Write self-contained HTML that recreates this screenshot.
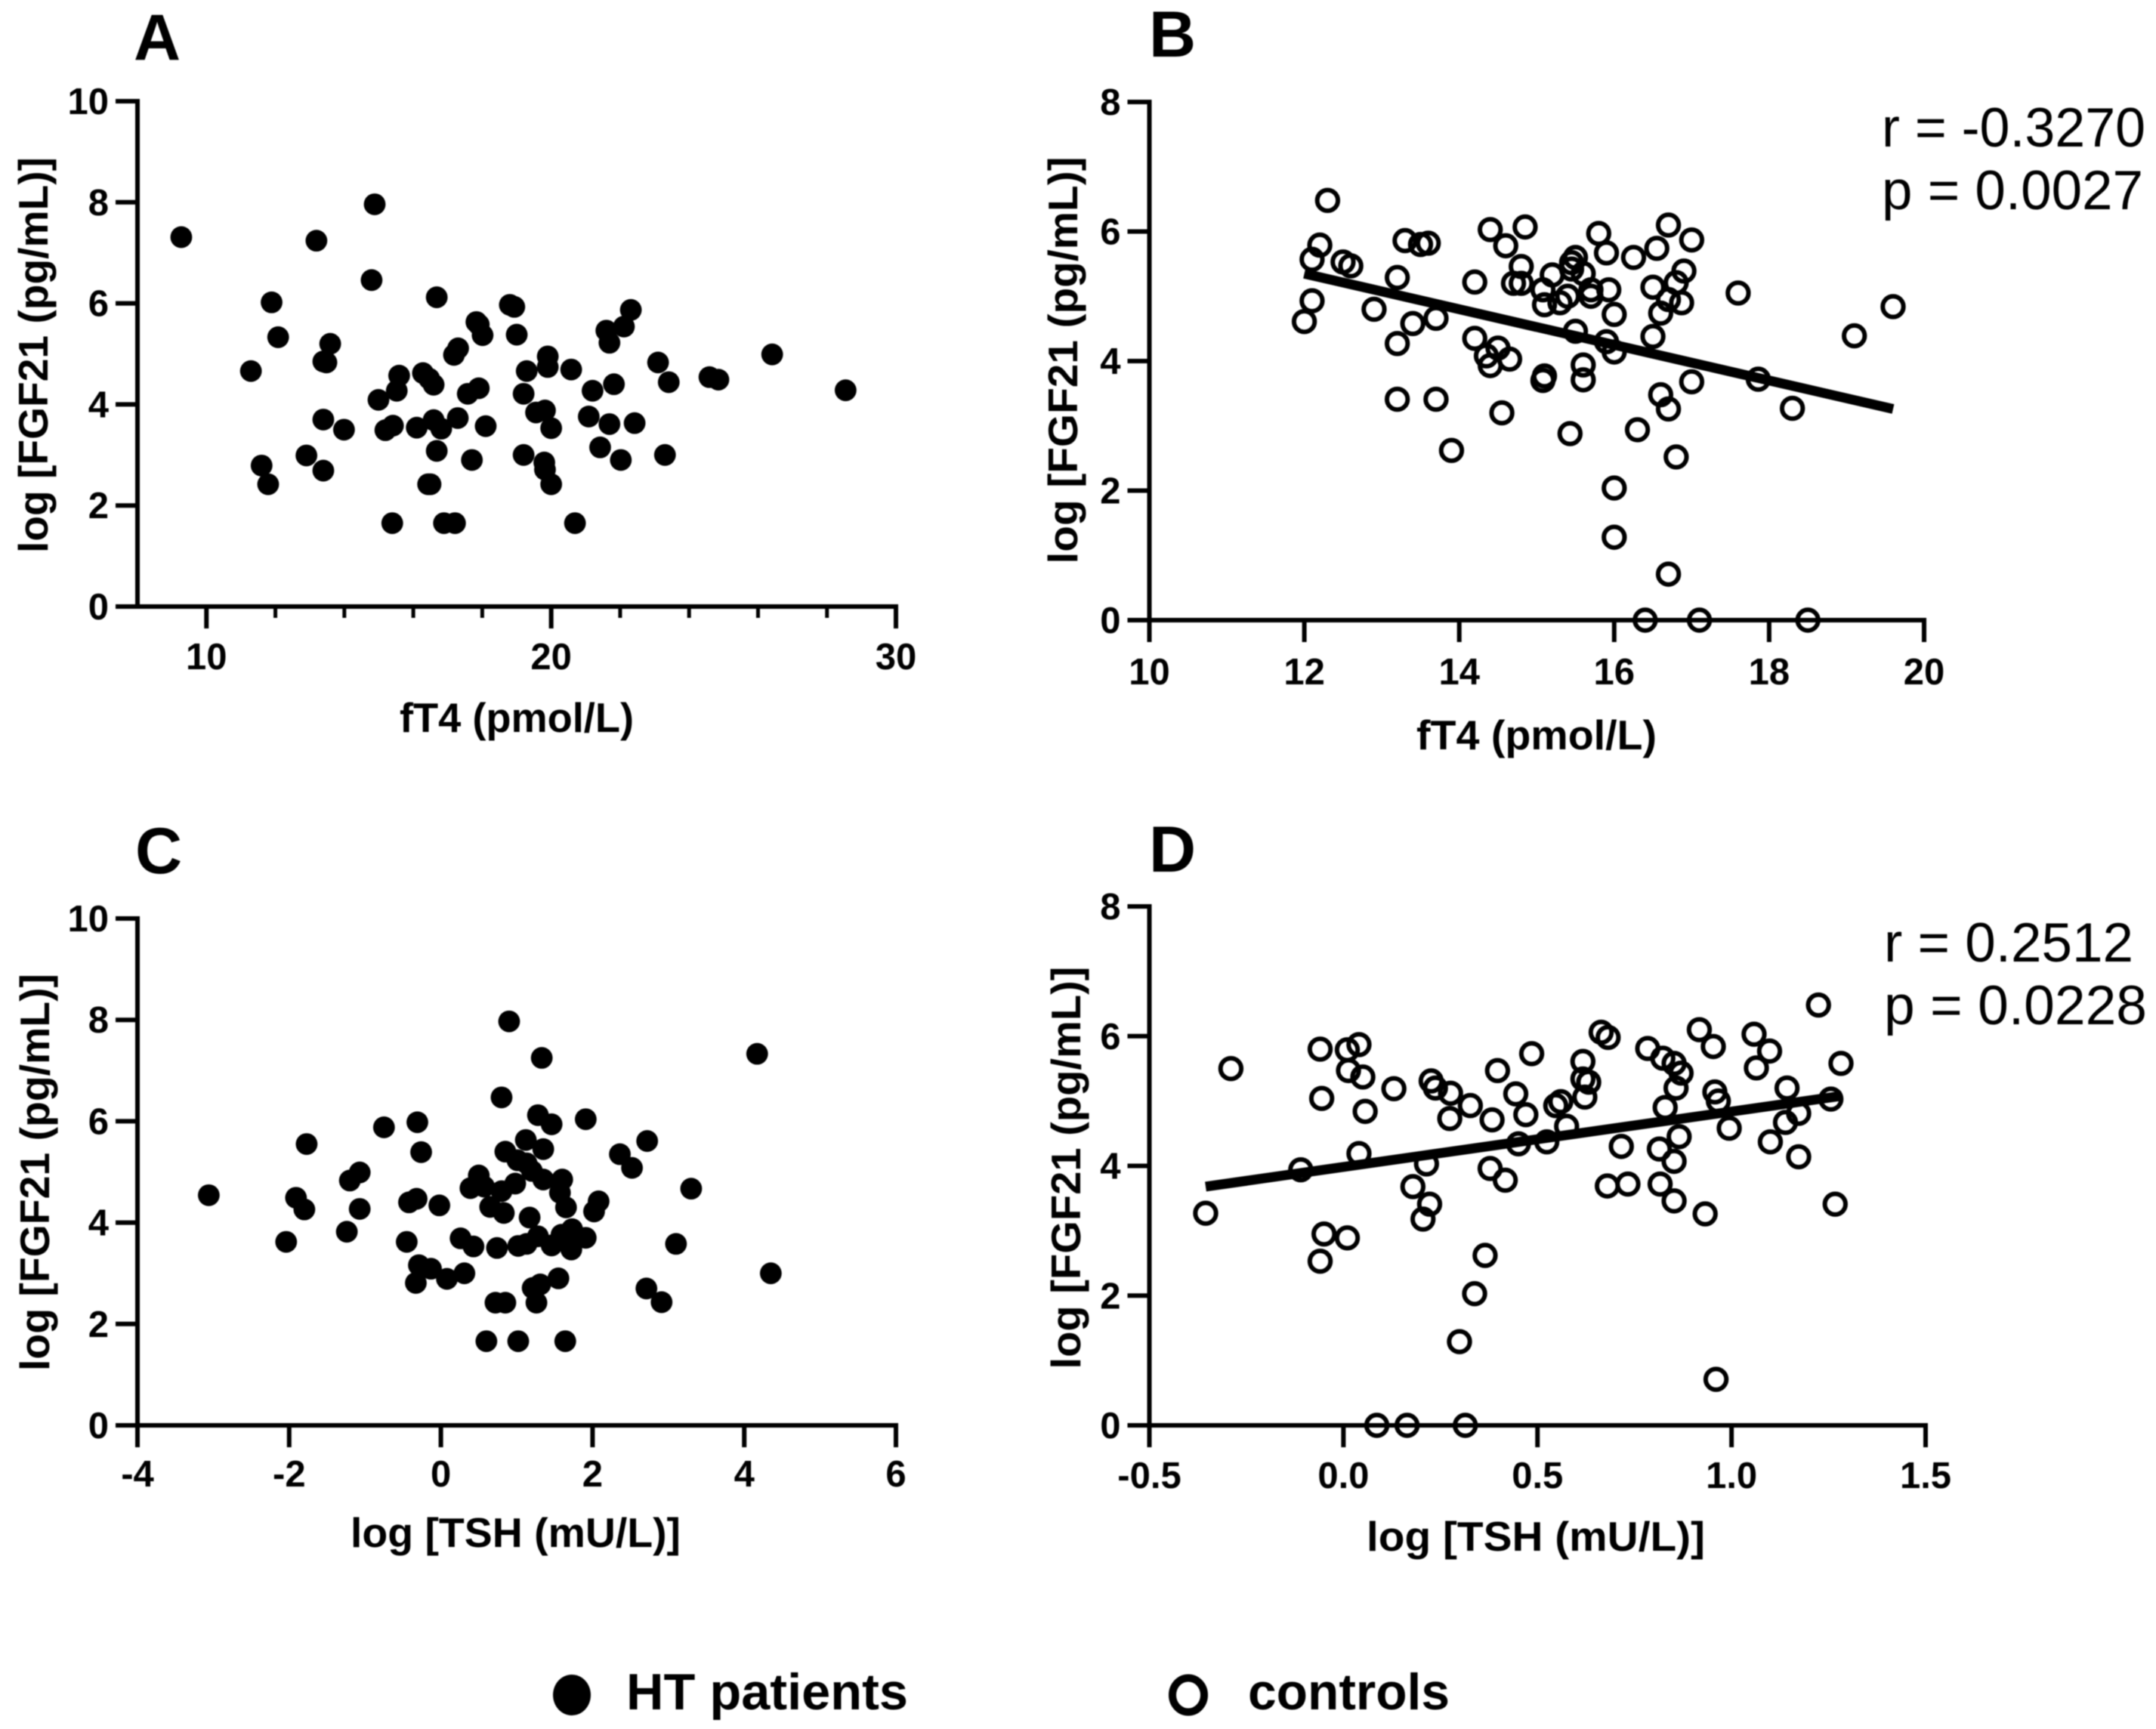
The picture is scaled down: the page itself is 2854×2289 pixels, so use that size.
<!DOCTYPE html>
<html lang="en">
<head>
<meta charset="utf-8">
<title>FGF21 correlation scatter plots</title>
<style>
html,body{margin:0;padding:0;background:#fff;}
#figure{display:block;width:2854px;height:2289px;filter:blur(0.7px);}
text{font-family:"Liberation Sans",sans-serif;fill:#000;}
.tick{font-weight:700;font-size:49px;}
.axis-title{font-weight:700;font-size:55px;}
.panel-letter{font-weight:700;font-size:86px;}
.stat{font-weight:400;font-size:73px;fill:#000;}
.legend-text{font-weight:700;font-size:68px;}
</style>
</head>
<body>
<svg id="figure" xmlns="http://www.w3.org/2000/svg" width="2854" height="2289" viewBox="0 0 2854 2289">
  <rect width="2854" height="2289" fill="#fff"/>
  <g id="panels"></g>
  <g>
    <g>
      <ellipse cx="757" cy="2244" rx="25" ry="27" fill="#000"/>
      <text class="legend-text" x="829" y="2263" textLength="373" lengthAdjust="spacingAndGlyphs">HT patients</text>
    </g>
    <g>
      <ellipse cx="1573" cy="2244" rx="21" ry="22.5" fill="none" stroke="#000" stroke-width="10"/>
      <text class="legend-text" x="1652" y="2263" textLength="267" lengthAdjust="spacingAndGlyphs">controls</text>
    </g>
  </g>
</svg>
<script>
// ---------- Panel A data ----------
const fT4PatientsX = [9.27,14.88,13.19,14.79,11.89,12.08,16.68,18.8,18.93,22.31,21.6,22.11,21.69,17.83,17.9,18.01,19.0,13.59,13.39,13.48,11.29,17.3,17.18,19.9,19.9,19.29,20.58,23.1,26.41,23.41,24.59,24.85,28.54,15.59,15.52,16.28,16.59,16.46,14.99,17.58,17.9,19.2,21.2,21.82,13.39,13.99,15.19,15.41,16.1,16.59,16.81,17.29,18.1,19.56,19.82,20.0,21.09,21.69,22.42,16.68,12.9,11.6,11.79,13.39,17.7,19.2,19.8,19.82,20.0,21.42,22.02,23.3,16.43,16.5,15.39,16.89,17.21,20.69];
const fT4PatientsY = [7.31,7.96,7.24,6.46,6.02,5.33,6.12,5.97,5.93,5.87,5.46,5.54,5.22,5.63,5.58,5.37,5.38,5.2,4.85,4.83,4.66,5.11,4.98,4.95,4.74,4.66,4.69,4.83,4.99,4.44,4.54,4.49,4.28,4.57,4.27,4.62,4.39,4.51,4.09,4.21,4.32,4.21,4.27,4.40,3.70,3.50,3.49,3.58,3.54,3.69,3.52,3.73,3.57,3.84,3.88,3.53,3.76,3.61,3.63,3.08,2.99,2.79,2.42,2.69,2.9,3.0,2.85,2.71,2.42,3.15,2.9,3.0,2.42,2.42,1.65,1.65,1.65,1.65];
const panelAXTicks = [8,10,12,14,16,18,20,22,24,26,28,30];
const panelAXLabels = ["","10","","","","","20","","","","","30"];
const panelAYTicks = [0,2,4,6,8,10];
const panelAYLabels = ["0","2","4","6","8","10"];

// ---------- Panel B data ----------
const fT4ControlsX = [12.3,12.0,12.1,12.1,12.2,12.5,12.6,12.9,13.2,13.2,13.2,13.3,13.5,13.6,13.4,13.7,13.7,13.9,14.2,14.2,14.4,14.6,14.7,14.8,14.8,14.85,14.35,14.4,14.5,14.65,14.55,15.08,15.1,15.2,15.3,15.4,15.45,15.5,15.45,15.6,15.7,15.7,15.8,15.9,15.93,16.0,15.5,15.9,16.0,15.1,15.08,15.6,15.6,15.43,16.25,16.55,16.5,16.7,17.0,16.9,16.8,16.7,16.87,16.6,16.5,17.6,17.0,16.6,16.7,16.3,16.8,16.0,16.0,16.7,16.4,17.1,18.5,17.86,18.3,19.1,19.6];
const fT4ControlsY = [6.48,4.61,4.93,5.57,5.79,5.53,5.47,4.80,5.29,4.27,3.41,5.86,5.80,5.82,4.58,4.66,3.41,2.62,5.22,4.35,6.03,5.78,5.2,5.2,5.46,6.07,4.08,3.93,4.2,4.03,3.2,5.1,4.87,5.33,4.9,5.0,5.52,5.6,5.42,5.35,5.1,5.0,5.97,5.67,5.1,4.72,4.46,4.3,4.14,3.77,3.7,3.94,3.71,2.88,5.6,5.74,5.14,6.1,5.87,5.39,5.21,4.95,4.9,4.74,4.38,5.05,3.68,3.48,3.26,2.94,2.52,2.04,1.28,0.71,0,0,0,3.72,3.27,4.39,4.84];
const panelBLineX = [12.0,19.6];
const panelBLineY = [5.35,3.26];
const panelBXTicks = [10,12,14,16,18,20];
const panelBXLabels = ["10","12","14","16","18","20"];
const panelBYTicks = [0,2,4,6,8];
const panelBYLabels = ["0","2","4","6","8"];

// ---------- Panel C data ----------
const tshPatientsX = [-3.06,-2.04,-1.91,-1.80,-1.77,-1.24,-1.20,-1.07,-1.07,-0.75,-0.45,-0.42,-0.32,-0.31,-0.26,-0.02,-0.29,-0.33,-0.13,0.08,0.31,0.26,0.43,0.39,0.50,0.57,0.65,0.83,0.80,0.98,0.80,0.90,1.33,0.85,1.12,1.01,1.13,1.20,1.35,1.28,1.46,1.91,1.35,1.60,1.57,1.65,1.17,0.74,1.02,1.13,1.28,1.46,1.59,1.72,1.73,1.68,1.91,2.02,2.08,2.36,2.52,2.72,3.30,3.10,2.71,2.91,4.17,4.35,1.55,1.21,1.31,1.26,0.72,0.85,0.60,1.02,1.64];
const tshPatientsY = [4.54,3.62,4.49,4.26,5.55,3.82,4.83,4.99,4.27,5.88,3.62,4.40,4.47,5.98,5.39,4.34,3.16,2.81,3.09,2.89,3.0,3.69,3.53,4.68,4.93,4.71,4.31,4.19,4.62,4.77,6.47,7.97,7.25,5.40,5.63,5.23,5.17,5.02,5.45,6.12,5.94,6.04,4.85,4.85,4.59,4.30,4.10,3.50,3.54,3.58,3.73,3.55,3.76,3.47,3.87,3.66,3.70,4.22,4.42,5.35,5.08,5.61,4.67,3.58,2.70,2.43,7.33,3.0,2.90,2.71,2.78,2.42,2.42,2.42,1.66,1.66,1.66];
const panelCXTicks = [-4,-2,0,2,4,6];
const panelCXLabels = ["-4","-2","0","2","4","6"];
const panelCYTicks = [0,2,4,6,8,10];
const panelCYLabels = ["0","2","4","6","8","10"];

// ---------- Panel D data ----------
const tshControlsX = [-0.355,-0.29,-0.11,-0.06,-0.056,-0.06,-0.05,0.01,0.04,0.013,0.05,0.056,0.04,0.01,0.13,0.086,0.164,0.314,0.226,0.237,0.276,0.274,0.327,0.383,0.214,0.179,0.222,0.205,0.378,0.417,0.365,0.338,0.299,0.397,0.444,0.47,0.451,0.485,0.524,0.547,0.56,0.575,0.617,0.617,0.632,0.622,0.664,0.682,0.716,0.68,0.733,0.784,0.823,0.852,0.87,0.857,0.829,0.814,0.816,0.865,0.852,0.852,0.917,0.953,0.932,0.957,0.966,0.994,0.96,1.058,1.064,1.098,1.10,1.143,1.139,1.173,1.173,1.224,1.256,1.267,1.282];
const tshControlsY = [3.27,5.50,3.94,5.80,5.04,2.53,2.95,5.79,5.87,5.47,5.37,4.84,4.19,2.89,5.19,0,0,0,5.31,5.2,5.12,4.73,4.93,4.71,4.03,3.68,3.41,3.18,3.96,3.78,2.62,2.03,1.29,5.47,5.11,4.79,4.34,5.73,4.37,4.93,4.99,4.61,5.61,5.34,5.29,5.06,6.06,5.98,4.30,3.69,3.72,5.81,5.66,5.58,5.43,5.2,4.90,4.26,3.72,4.45,4.07,3.46,6.10,5.84,3.26,5.14,5.0,4.58,0.71,6.03,5.51,5.77,4.37,5.2,4.67,4.81,4.14,6.48,5.03,3.41,5.58];
const panelDLineX = [-0.355,1.284];
const panelDLineY = [3.68,5.08];
const panelDXTicks = [-0.5,0,0.5,1,1.5];
const panelDXLabels = ["-0.5","0.0","0.5","1.0","1.5"];
const panelDYTicks = [0,2,4,6,8];
const panelDYLabels = ["0","2","4","6","8"];

const NS = 'http://www.w3.org/2000/svg';
const root = document.getElementById('panels');

function make(parent, tag, attrs, text) {
  const el = document.createElementNS(NS, tag);
  for (const k in attrs) el.setAttribute(k, attrs[k]);
  if (text !== undefined) el.textContent = text;
  parent.appendChild(el);
  return el;
}

function drawPanel(cfg) {
  const g = make(root, 'g', {});
  
  

  const sx = v => cfg.left + (v - cfg.xMin) / (cfg.xMax - cfg.xMin) * (cfg.right - cfg.left);
  const sy = v => cfg.bottom - (v - cfg.yMin) / (cfg.yMax - cfg.yMin) * (cfg.bottom - cfg.top);

  // panel letter
  const letter = make(g, 'text', {class:'panel-letter', x:cfg.letterX, y:cfg.letterY}, cfg.id.toUpperCase());
  
  

  // axes
  const yAxis = make(g, 'line', {x1:cfg.left, x2:cfg.left, y1:cfg.top-3, y2:cfg.bottom+3, stroke:'#000', 'stroke-width':6});
  
  
  const xAxis = make(g, 'line', {x1:cfg.left, x2:cfg.right+3, y1:cfg.bottom, y2:cfg.bottom, stroke:'#000', 'stroke-width':6});
  
  

  // y ticks
  cfg.yTicks.forEach((v, i) => {
    const t = make(g, 'line', {x1:cfg.left-29, x2:cfg.left, y1:sy(v), y2:sy(v), stroke:'#000', 'stroke-width':6});
    
    
    const l = make(g, 'text', {class:'tick', x:cfg.left-38, y:sy(v)+17, 'text-anchor':'end'}, cfg.yLabels[i]);
    
    
  });

  // x ticks
  cfg.xTicks.forEach((v, i) => {
    const lab = cfg.xLabels[i];
    if (v === cfg.xMin && lab === '') return;
    const len = lab === '' ? 15 : 29;
    const t = make(g, 'line', {x1:sx(v), x2:sx(v), y1:cfg.bottom, y2:cfg.bottom+len, stroke:'#000', 'stroke-width':lab === '' ? 5 : 6});
    
    
    if (lab !== '') {
      const l = make(g, 'text', {class:'tick', x:sx(v), y:cfg.xTickBase, 'text-anchor':'middle'}, lab);
      
      
    }
  });

  // axis titles
  const xt = make(g, 'text', {class:'axis-title', x:cfg.xTitleX, y:cfg.xTitleY, 'text-anchor':'middle', textLength:cfg.xTitleLen, lengthAdjust:'spacingAndGlyphs'}, cfg.xTitle);
  
  
  const yt = make(g, 'text', {class:'axis-title', transform:'translate(' + cfg.yTitleX + ' ' + cfg.yTitleY + ') rotate(-90)', 'text-anchor':'middle', textLength:cfg.yTitleLen, lengthAdjust:'spacingAndGlyphs'}, 'log [FGF21 (pg/mL)]');
  
  

  // points
  const pts = make(g, 'g', {});
  
  
  cfg.x.forEach((v, i) => {
    const c = make(pts, 'circle', cfg.filled
      ? {cx:sx(v), cy:sy(cfg.y[i]), r:14.4, fill:'#000'}
      : {cx:sx(v), cy:sy(cfg.y[i]), r:13.7, fill:'none', stroke:'#000', 'stroke-width':6});
    
    
  });

  // regression line
  if (cfg.lineX) {
    const ln = make(g, 'line', {x1:sx(cfg.lineX[0]), y1:sy(cfg.lineY[0]), x2:sx(cfg.lineX[1]), y2:sy(cfg.lineY[1]), stroke:'#000', 'stroke-width':13});
    
    
  }

  // stats
  if (cfg.stats) {
    cfg.stats.forEach((s, i) => {
      const st = make(g, 'text', {class:'stat', x:cfg.statX, y:cfg.statY[i], textLength:cfg.statW[i], lengthAdjust:'spacingAndGlyphs'}, s);
      
      
    });
  }
}

drawPanel({id:'a', left:182, right:1186, top:134, bottom:803, xMin:8, xMax:30, yMin:0, yMax:10,
  x:fT4PatientsX, y:fT4PatientsY, filled:true, xTicks:panelAXTicks, xLabels:panelAXLabels, yTicks:panelAYTicks, yLabels:panelAYLabels,
  xTickBase:886, xTitle:'fT4 (pmol/L)', xTitleX:684, xTitleY:969, xTitleLen:310, yTitleX:63, yTitleY:470, yTitleLen:524, letterX:177, letterY:79});

drawPanel({id:'b', left:1521.5, right:2547, top:135, bottom:821, xMin:10, xMax:20, yMin:0, yMax:8,
  x:fT4ControlsX, y:fT4ControlsY, filled:false, lineX:panelBLineX, lineY:panelBLineY, xTicks:panelBXTicks, xLabels:panelBXLabels, yTicks:panelBYTicks, yLabels:panelBYLabels,
  xTickBase:906, xTitle:'fT4 (pmol/L)', xTitleX:2034, xTitleY:992, xTitleLen:318, yTitleX:1426, yTitleY:477, yTitleLen:539, letterX:1521, letterY:75,
  stats:['r = -0.3270','p = 0.0027'], statX:2491, statY:[194,277], statW:[349,346]});

drawPanel({id:'c', left:182, right:1186, top:1216, bottom:1887, xMin:-4, xMax:6, yMin:0, yMax:10,
  x:tshPatientsX, y:tshPatientsY, filled:true, xTicks:panelCXTicks, xLabels:panelCXLabels, yTicks:panelCYTicks, yLabels:panelCYLabels,
  xTickBase:1968, xTitle:'log [TSH (mU/L)]', xTitleX:682.5, xTitleY:2048, xTitleLen:437, yTitleX:65, yTitleY:1552, yTitleLen:526, letterX:179, letterY:1156});

drawPanel({id:'d', left:1521.5, right:2549, top:1200, bottom:1887, xMin:-0.5, xMax:1.5, yMin:0, yMax:8,
  x:tshControlsX, y:tshControlsY, filled:false, lineX:panelDLineX, lineY:panelDLineY, xTicks:panelDXTicks, xLabels:panelDXLabels, yTicks:panelDYTicks, yLabels:panelDYLabels,
  xTickBase:1970, xTitle:'log [TSH (mU/L)]', xTitleX:2033, xTitleY:2053, xTitleLen:448, yTitleX:1430, yTitleY:1546, yTitleLen:533, letterX:1521, letterY:1154,
  stats:['r = 0.2512','p = 0.0228'], statX:2494, statY:[1273,1356], statW:[330,348]});
</script>
</body>
</html>
